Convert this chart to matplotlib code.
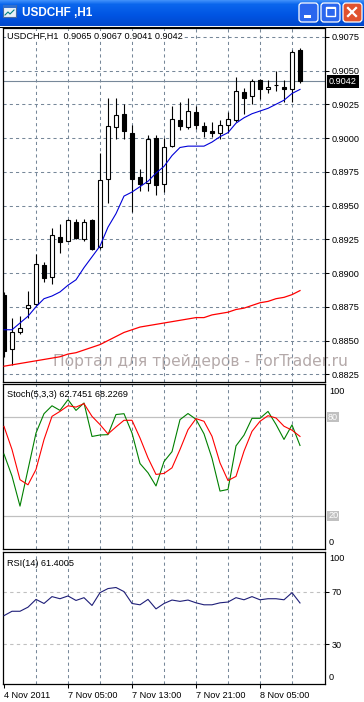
import numpy as np
import matplotlib
matplotlib.use('Agg')
import matplotlib.pyplot as plt
from matplotlib.patches import Rectangle, FancyBboxPatch
from matplotlib.transforms import blended_transform_factory

plt.rcParams['font.family'] = ['Liberation Sans', 'DejaVu Sans']

# USDCHF H1 bars (bar 0 = 4 Nov 2011, last = 8 Nov 10:00)
opens = [0.8884, 0.8844, 0.8856, 0.8874, 0.8877, 0.8906, 0.8897, 0.8927, 0.8924, 0.8938,
         0.8925, 0.8939, 0.8919, 0.8970, 0.9008, 0.9018, 0.9004, 0.8971, 0.8967, 0.9000,
         0.8966, 0.8994, 0.9013, 0.9008, 0.9019, 0.9009, 0.9005, 0.9004, 0.9010, 0.9013,
         0.9034, 0.9031, 0.9043, 0.9036, 0.9039, 0.9038, 0.9036, 0.9065]
highs = [0.8886, 0.8867, 0.8868, 0.8887, 0.8914, 0.8908, 0.8933, 0.8936, 0.8940, 0.8940,
         0.8940, 0.8940, 0.8989, 0.9030, 0.9030, 0.9025, 0.9010, 0.8977, 0.9002, 0.9002,
         0.9000, 0.9024, 0.9027, 0.9030, 0.9024, 0.9012, 0.9012, 0.9013, 0.9019, 0.9045,
         0.9037, 0.9044, 0.9044, 0.9043, 0.9050, 0.9043, 0.9065, 0.9067]
lows = [0.8838, 0.8832, 0.8855, 0.8867, 0.8876, 0.8893, 0.8892, 0.8915, 0.8924, 0.8925,
        0.8924, 0.8917, 0.8918, 0.8952, 0.8999, 0.8999, 0.8945, 0.8961, 0.8961, 0.8958,
        0.8960, 0.8993, 0.9006, 0.9007, 0.9007, 0.9001, 0.9001, 0.8999, 0.9004, 0.9012,
        0.9018, 0.9025, 0.9029, 0.9033, 0.9035, 0.9027, 0.9027, 0.9041]
closes = [0.8842, 0.8856, 0.8859, 0.8876, 0.8907, 0.8896, 0.8928, 0.8923, 0.8939, 0.8926,
          0.8938, 0.8918, 0.8969, 0.9009, 0.9017, 0.9005, 0.8970, 0.8966, 0.8999, 0.8965,
          0.8993, 0.9014, 0.9009, 0.9020, 0.9010, 0.9005, 0.9004, 0.9010, 0.9014, 0.9035,
          0.9030, 0.9042, 0.9036, 0.9038, 0.90392, 0.9036, 0.9064, 0.9042]

# moving averages (blue = fast, red = slow)
ma_fast = [0.8858, 0.8858, 0.8863, 0.8868, 0.8875, 0.8881, 0.8883, 0.8886, 0.8891, 0.8895,
           0.8904, 0.8912, 0.8920, 0.8934, 0.8944, 0.8957, 0.8960, 0.8964, 0.8968, 0.8974,
           0.8979, 0.8987, 0.8993, 0.8994, 0.8994, 0.8994, 0.8997, 0.9001, 0.9004, 0.9011,
           0.9015, 0.9018, 0.9020, 0.9022, 0.9025, 0.9028, 0.9033, 0.9036]
ma_slow = [0.8831, 0.8832, 0.8833, 0.8834, 0.8835, 0.8836, 0.8837, 0.8838, 0.8840, 0.8841,
           0.8843, 0.8845, 0.8847, 0.8850, 0.8853, 0.8856, 0.8858, 0.8860, 0.8861, 0.8862,
           0.8863, 0.8864, 0.8865, 0.8866, 0.8867, 0.8867, 0.8869, 0.8870, 0.8871, 0.8873,
           0.8874, 0.8876, 0.8878, 0.8879, 0.8881, 0.8882, 0.8884, 0.8887]

# Stochastic(5,3,3)
stoch_k = [57.5, 44.2, 26.0, 48.2, 70.3, 82.0, 86.8, 84.0, 90.5, 84.0,
           88.5, 68.2, 69.1, 69.3, 81.5, 82.0, 70.3, 51.8, 46.2, 38.2,
           53.0, 59.0, 78.4, 82.1, 78.6, 69.8, 55.0, 35.1, 36.1, 62.5,
           69.0, 79.2, 79.2, 83.4, 75.5, 66.4, 75.2, 62.7451]
stoch_d = [74.3, 60.3, 42.0, 38.9, 48.2, 66.3, 80.4, 83.4, 86.8, 86.0,
           88.1, 80.4, 75.4, 69.7, 74.0, 78.0, 78.0, 67.3, 55.2, 45.2,
           45.8, 49.2, 60.3, 72.3, 79.0, 77.4, 68.3, 52.2, 41.5, 44.0,
           59.3, 71.3, 77.4, 80.8, 79.4, 74.4, 72.0, 68.2269]

# RSI(14)
rsi = [51.8, 55.1, 55.1, 58.2, 64.1, 61.0, 66.2, 64.6, 66.7, 63.3,
       65.4, 59.5, 69.2, 72.3, 73.1, 70.0, 61.0, 60.0, 64.1, 56.9,
       61.0, 63.6, 62.6, 63.6, 61.5, 60.0, 60.0, 61.5, 62.1, 65.4,
       63.8, 66.2, 63.8, 64.6, 64.6, 63.8, 69.2, 61.4005]

price_levels = [0.8825, 0.8850, 0.8875, 0.8900, 0.8925, 0.8950, 0.8975,
                0.9000, 0.9025, 0.9050, 0.9075]
time_ticks = [0, 8, 16, 24, 32]
time_labels = ['4 Nov 2011', '7 Nov 05:00', '7 Nov 13:00', '7 Nov 21:00', '8 Nov 05:00']

W, H = 364, 702
fig = plt.figure(figsize=(W / 100, H / 100), dpi=100)
fig.patch.set_facecolor('white')


def px_axes(x0, y0, x1, y1):
    return fig.add_axes([x0 / W, 1 - y1 / H, (x1 - x0) / W, (y1 - y0) / H])


def fig_text(x, y, s, **kw):
    return fig.text(x / W, 1 - y / H, s, **kw)


GRID = '#778899'
DASH = (0, (3, 3))
FS = 6.6
x = np.arange(len(closes))

# ---- window title bar ----
tb = px_axes(0, 0, W, 26)
rows = np.linspace(0, 1, 26)
stops = [0, 0.15, 0.6, 1.0]
cols = [(0.24, 0.56, 0.98), (0.04, 0.40, 0.93), (0.0, 0.33, 0.89), (0.0, 0.28, 0.80)]
grad = np.zeros((26, 1, 3))
for c in range(3):
    grad[:, 0, c] = np.interp(rows, stops, [cc[c] for cc in cols])
tb.imshow(grad, aspect='auto', extent=(0, W, 26, 0))
tb.set_xlim(0, W)
tb.set_ylim(26, 0)
tb.axis('off')
tb.add_patch(Rectangle((3, 5), 13, 12, fc='#e8f0f8', ec='#4a6aa0', lw=0.8))
tb.add_patch(Rectangle((3, 5), 13, 3, fc='#3070d0', ec='none'))
tb.plot([5, 8, 10, 14], [15, 12, 14, 10], color='#008080', lw=0.8)
tb.text(22, 13, 'USDCHF ,H1', color='white', fontweight='bold', fontsize=8.5,
        va='center', ha='left')
for bx, bc in [(298, '#2a66ee'), (320, '#2a66ee'), (342, '#e0522e')]:
    tb.add_patch(FancyBboxPatch((bx + 1, 3), 19, 19,
                                boxstyle='round,pad=0,rounding_size=3',
                                fc=bc, ec='white', lw=0.9))
tb.add_patch(Rectangle((304, 15), 7, 3, fc='white', ec='none'))
tb.add_patch(Rectangle((325.5, 7), 9, 9, fc='none', ec='white', lw=1.0))
tb.add_patch(Rectangle((325.5, 7), 9, 2, fc='white', ec='none'))
tb.plot([348, 356], [8, 16], color='white', lw=1.6)
tb.plot([348, 356], [16, 8], color='white', lw=1.6)

# ---- panels ----
ax = px_axes(3, 28, 325, 382)
ax2 = px_axes(3, 384, 325, 549)
ax3 = px_axes(3, 552, 325, 684)

for a in (ax, ax2, ax3):
    a.set_xlim(-0.125, 40.125)
    for i in range(4, 40, 4):
        a.axvline(i, color=GRID, lw=0.75, ls=DASH, zorder=1)
    for s in a.spines.values():
        s.set_linewidth(0.9)
        s.set_color('black')
    a.tick_params(left=False, labelleft=False, bottom=False, labelbottom=False)

# ---- main price panel ----
ax.set_ylim(0.88193, 0.90815)
for lev in price_levels:
    ax.axhline(lev, color=GRID, lw=0.75, ls=DASH, zorder=1)
ax.axhline(closes[-1], color=GRID, lw=0.8, zorder=1.5)

o = np.array(opens)
c = np.array(closes)
body_colors = ['white' if cc >= oo else 'black' for oo, cc in zip(o, c)]
ax.vlines(x, lows, highs, color='black', lw=0.8, zorder=3)
ax.bar(x, np.abs(c - o), bottom=np.minimum(o, c), width=0.6, color=body_colors,
       edgecolor='black', linewidth=0.8, zorder=4)
ax.plot(x, ma_fast, color='#0000d8', lw=0.8, zorder=5)
ax.plot(x, ma_slow, color='#ff0000', lw=0.9, zorder=5)

ax.yaxis.tick_right()
ax.set_yticks(price_levels)
ax.set_yticklabels([f'{v:.4f}' for v in price_levels])
ax.tick_params(axis='y', right=True, labelright=True, direction='out', length=3,
               width=0.75, labelsize=FS, pad=1.5)

ax.text(329 / W, closes[-1], f'{closes[-1]:.4f}', color='white', fontsize=FS,
        va='center', ha='left', clip_on=False, zorder=6,
        transform=blended_transform_factory(fig.transFigure, ax.transData),
        bbox=dict(fc='black', ec='none', pad=1.3))

# watermark
ax.text(200 / W, 0.88345, 'Портал для трейдеров - ForTrader.ru',
        transform=blended_transform_factory(fig.transFigure, ax.transData),
        color='#b4a9a9', fontsize=11.2, family='DejaVu Sans', ha='center', va='center',
        clip_on=False, zorder=0.5)

fig_text(7, 36, 'USDCHF,H1  0.9065 0.9067 0.9041 0.9042', fontsize=FS, va='center',
         ha='left', bbox=dict(fc='white', ec='none', pad=0.6))

# ---- stochastic panel ----
ax2.set_ylim(0, 100)
ax2.axhline(80, color='#c0c0c0', lw=0.9, zorder=1)
ax2.axhline(20, color='#c0c0c0', lw=0.9, zorder=1)
ax2.plot(x, stoch_k, color='#008000', lw=0.8, zorder=3)
ax2.plot(x, stoch_d, color='#ff0000', lw=0.8, zorder=3)
tr2 = blended_transform_factory(fig.transFigure, ax2.transData)
ax2.text(329 / W, 95.2, '100', transform=tr2, fontsize=FS, va='center', clip_on=False)
ax2.text(329 / W, 3.8, '0', transform=tr2, fontsize=FS, va='center', clip_on=False)
for lv in (80, 20):
    ax2.text(328 / W, lv, str(lv), transform=tr2, fontsize=FS, va='center',
             color='white', clip_on=False,
             bbox=dict(fc='#c0c0c0', ec='none', pad=0.6))
fig_text(7, 394, 'Stoch(5,3,3) 62.7451 68.2269', fontsize=FS, va='center', ha='left')

# ---- RSI panel ----
ax3.set_ylim(0, 100)
ax3.axhline(70, color='#c0c0c0', lw=0.8, ls=DASH, zorder=1)
ax3.axhline(30, color='#c0c0c0', lw=0.8, ls=DASH, zorder=1)
ax3.plot(x, rsi, color='#1e1e78', lw=0.8, zorder=3)
ax3.yaxis.tick_right()
ax3.set_yticks([70, 30])
ax3.set_yticklabels(['70', '30'])
ax3.tick_params(axis='y', right=True, labelright=True, direction='out', length=3,
                width=0.75, labelsize=FS, pad=1.5)
tr3 = blended_transform_factory(fig.transFigure, ax3.transData)
ax3.text(329 / W, 94.7, '100', transform=tr3, fontsize=FS, va='center', clip_on=False)
ax3.text(329 / W, 5.3, '0', transform=tr3, fontsize=FS, va='center', clip_on=False)
fig_text(7, 563, 'RSI(14) 61.4005', fontsize=FS, va='center', ha='left')

ax3.set_xticks(time_ticks)
ax3.set_xticklabels(time_labels)
ax3.tick_params(axis='x', bottom=True, labelbottom=True, direction='out', length=3,
                width=0.75, labelsize=FS, pad=2)
for lbl in ax3.get_xticklabels():
    lbl.set_ha('left')

# top border of the chart client area
fig.add_artist(plt.Line2D([0, 1], [1 - 27 / H, 1 - 27 / H], color='black', lw=0.8))

fig.savefig('out.png', dpi=100)
